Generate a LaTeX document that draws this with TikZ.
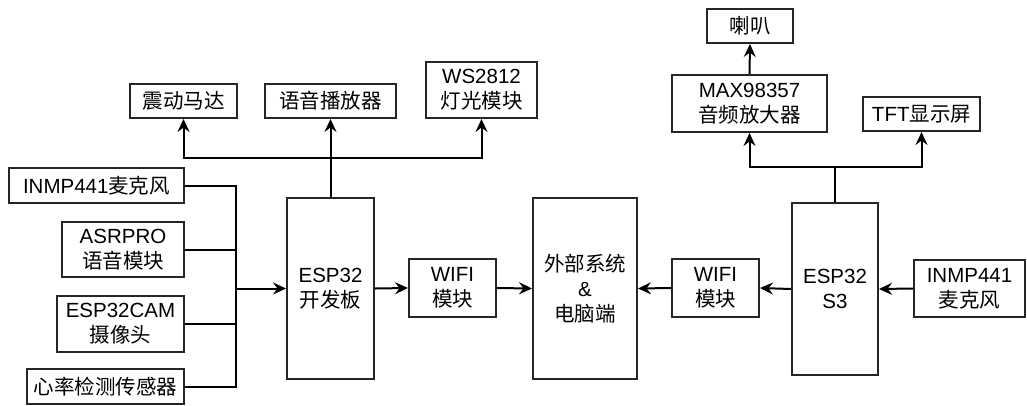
\documentclass[tikz,border=0pt]{standalone}
\usepackage{fontspec}
\setmainfont{Liberation Sans}
\newfontfamily\cjk{Noto Sans CJK SC}
\newcommand{\zh}[1]{{\cjk #1}}
\usetikzlibrary{arrows.meta}
\begin{document}
\begin{tikzpicture}[x=1pt,y=1pt,
  blk/.style={draw=black!85, line width=2pt, inner sep=0pt, align=center,
    font=\fontsize{20.5}{25}\selectfont, fill=white},
  wire/.style={line width=2pt, draw=black},
  arr/.style={wire, -{Stealth[length=13pt,width=12pt,inset=4.5pt]}}]
\useasboundingbox (0,0) rectangle (1027,-405);
% input boxes
\node[blk, minimum width=175, minimum height=35] (in1) at (96.5,-185.5) {INMP441\zh{麦克风}};
\node[blk, minimum width=122, minimum height=55] (in2) at (123,-249.5) {ASRPRO\\\zh{语音模块}};
\node[blk, minimum width=127, minimum height=56] (in3) at (120.5,-324) {ESP32CAM\\\zh{摄像头}};
\node[blk, minimum width=157, minimum height=35] (in4) at (105.5,-386.5) {\zh{心率检测传感器}};
% main boards
\node[blk, minimum width=87, minimum height=181] (esp) at (330.5,-288.5) {ESP32\\\zh{开发板}};
\node[blk, minimum width=87, minimum height=58] (wifiL) at (452.5,-288) {WIFI\\\zh{模块}};
\node[blk, minimum width=104, minimum height=181] (ext) at (585,-288.5) {\zh{外部系统}\\\&\\\zh{电脑端}};
\node[blk, minimum width=87, minimum height=58] (wifiR) at (715.5,-288) {WIFI\\\zh{模块}};
\node[blk, minimum width=86, minimum height=172] (s3) at (835,-289) {ESP32\\S3};
\node[blk, minimum width=111, minimum height=57] (mic) at (969.5,-288.5) {INMP441\\\zh{麦克风}};
% outputs left
\node[blk, minimum width=107, minimum height=34] (zd) at (183.5,-101) {\zh{震动马达}};
\node[blk, minimum width=131, minimum height=34] (bf) at (330.5,-101) {\zh{语音播放器}};
\node[blk, minimum width=111, minimum height=56] (ws) at (481.5,-90) {WS2812\\\zh{灯光模块}};
% outputs right
\node[blk, minimum width=86, minimum height=34] (lb) at (750,-26) {\zh{喇叭}};
\node[blk, minimum width=155, minimum height=57] (max) at (749.5,-103.5) {MAX98357\\\zh{音频放大器}};
\node[blk, minimum width=117, minimum height=34] (tft) at (921.5,-114) {TFT\zh{显示屏}};
% junctions
\coordinate (bus) at (236,-288.5);
\coordinate (jL) at (330.5,-158);
\coordinate (jR) at (835,-167);
% input bus
\draw[wire] (in1.east) -| (bus);
\draw[wire] (in2.east) -| (bus);
\draw[wire] (in3.east) -| (bus);
\draw[wire] (in4.east) -| (bus);
\draw[arr] (bus) -- (esp.west);
% esp outputs
\draw[arr] (esp.north) -- (bf.south);
\draw[arr] (jL) -| (zd.south);
\draw[arr] (jL) -| (ws.south);
% wifi chain
\draw[arr] (esp.east) -- (wifiL.west);
\draw[arr] (wifiL.east) -- (ext.west);
\draw[arr] (mic.west) -- (s3.east);
\draw[arr] (s3.west) -- (wifiR.east);
\draw[arr] (wifiR.west) -- (ext.east);
% s3 outputs
\draw[wire] (s3.north) -- (jR);
\draw[arr] (jR) -| (max.south);
\draw[arr] (jR) -| (tft.south);
\draw[arr] (max.north) -- (lb.south);
\end{tikzpicture}
\end{document}
